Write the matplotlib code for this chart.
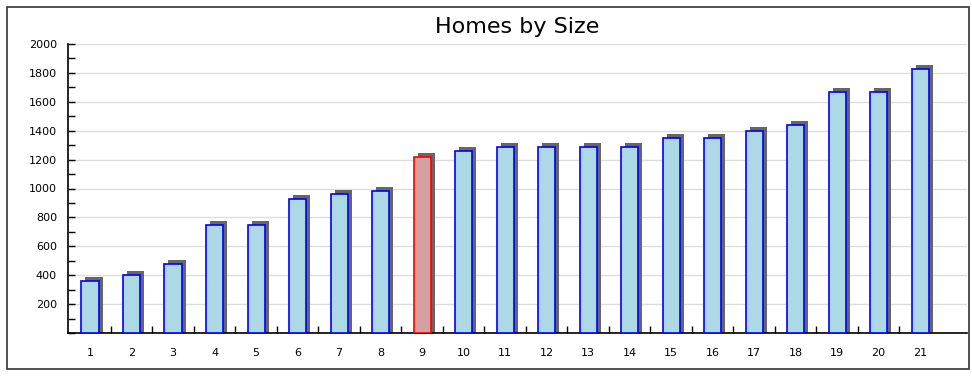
import numpy as np
import matplotlib
matplotlib.use("Agg")
import matplotlib.pyplot as plt
from matplotlib.patches import Rectangle
from matplotlib.ticker import MultipleLocator

# Home sizes (sq ft), one bar per home
homes = [str(i) for i in range(1, 22)]
sizes = [360, 400, 480, 750, 750, 930, 960, 980, 1220, 1260, 1290,
         1290, 1290, 1290, 1350, 1350, 1400, 1440, 1670, 1670, 1830]
highlight = 8  # index of the highlighted home

W, H = 972, 381
fig = plt.figure(figsize=(W / 100, H / 100), dpi=100)
fig.patch.set_facecolor("white")

# outer frame
fig.patches.append(Rectangle((7 / W, 12 / H), 962 / W, 362 / H, transform=fig.transFigure,
                             fill=False, edgecolor="#333333", linewidth=1.2))

ax = fig.add_axes([68 / W, (H - 333) / H, (967 - 68) / W, (333 - 44) / H])
x = np.arange(1, len(sizes) + 1)
ax.set_xlim(0.47, 22.13)
ax.set_ylim(0, 2000)

# shadow offset in data units (4 px right, 4 px up)
px_x = (22.13 - 0.47) / (967 - 68)
px_y = 2000 / (333 - 44)
sizes = np.array(sizes)

ax.bar(x + 4 * px_x, sizes + 4 * px_y, width=0.41, color="#666666", zorder=2, linewidth=0)

faces = ["#add8e6"] * len(sizes)
edges = ["#0000ff"] * len(sizes)
faces[highlight] = "#d4a0a0"
edges[highlight] = "#ff0000"
ax.bar(x, sizes, width=0.41, color=faces, edgecolor=edges, linewidth=1.2, zorder=3)

ax.set_title("Homes by Size", fontsize=16, pad=8)

ax.set_yticks(np.arange(200, 2001, 200))
ax.yaxis.set_minor_locator(MultipleLocator(100))
ax.tick_params(axis="y", which="both", direction="in", length=5, width=1, labelsize=8, pad=8)
ax.grid(axis="y", color="#dddddd", linewidth=1, zorder=0)

ax.set_xticks(x)
ax.set_xticklabels(homes)
ax.set_xticks(x[:-1] + 0.5, minor=True)
ax.tick_params(axis="x", which="major", length=0, labelsize=8, pad=11)
ax.tick_params(axis="x", which="minor", direction="in", length=5, width=1)

for s in ["top", "right"]:
    ax.spines[s].set_visible(False)
for s in ["left", "bottom"]:
    ax.spines[s].set_linewidth(1.2)

fig.savefig("out.png", dpi=100)
